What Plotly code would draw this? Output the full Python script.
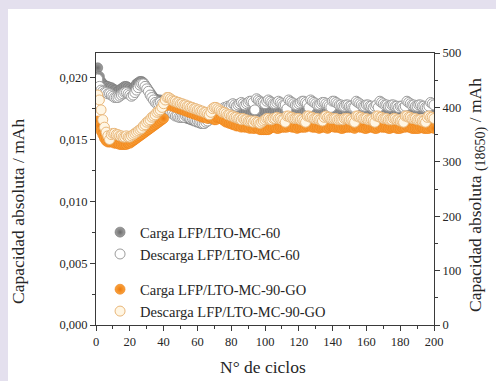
import plotly.graph_objects as go

# Cycle number (1..200)
ciclos = list(range(1, 201))

# Capacities in µAh (converted to mAh for plotting)
carga_mc60 = [
    20.8, 20.1, 19.7, 19.5, 19.4, 19.3, 19.3, 19.2, 19.2, 19.1,
    19.0, 19.0, 18.9, 19.0, 19.1, 19.2, 19.3, 19.3, 19.2, 19.1,
    19.0, 19.1, 19.3, 19.5, 19.6, 19.7, 19.7, 19.6, 19.4, 19.2,
    19.0, 18.8, 18.6, 18.4, 18.3, 18.2, 18.2, 18.2, 18.1, 17.9,
    17.7, 17.5, 17.4, 17.3, 17.2, 17.1, 17.0, 16.9, 16.9, 16.8,
    16.8, 16.8, 16.8, 16.7, 16.7, 16.6, 16.6, 16.5, 16.5, 16.4,
    16.4, 16.3, 16.3, 16.3, 16.4, 16.5, 16.6, 16.7, 16.8, 16.9,
    17.0, 17.1, 17.1, 17.2, 17.2, 17.3, 17.3, 17.3, 17.4, 17.4,
    17.4, 17.3, 17.3, 17.4, 17.4, 17.3, 17.3, 17.2, 17.3, 17.3,
    17.3, 17.2, 17.2, 17.3, 17.4, 17.3, 17.3, 17.2, 17.2, 17.3,
    17.3, 17.3, 17.2, 17.2, 17.2, 17.3, 17.3, 17.3, 17.2, 17.2,
    17.3, 17.4, 17.5, 17.4, 17.4, 17.3, 17.3, 17.3, 17.3, 17.4,
    17.4, 17.4, 17.3, 17.3, 17.4, 17.5, 17.5, 17.4, 17.4, 17.4,
    17.4, 17.4, 17.5, 17.5, 17.5, 17.4, 17.4, 17.5, 17.6, 17.6,
    17.5, 17.5, 17.5, 17.5, 17.5, 17.5, 17.5, 17.4, 17.5, 17.5,
    17.5, 17.5, 17.6, 17.6, 17.5, 17.5, 17.5, 17.5, 17.5, 17.5,
    17.5, 17.5, 17.5, 17.4, 17.5, 17.5, 17.6, 17.6, 17.6, 17.5,
    17.5, 17.5, 17.5, 17.5, 17.5, 17.5, 17.5, 17.4, 17.5, 17.5,
    17.5, 17.6, 17.6, 17.6, 17.5, 17.5, 17.5, 17.5, 17.5, 17.4,
    17.5, 17.5, 17.5, 17.5, 17.6, 17.6, 17.6, 17.5, 17.5, 17.5,
]

descarga_mc60 = [
    19.9, 19.3, 19.0, 18.9, 18.8, 18.8, 18.7, 18.7, 18.6, 18.5,
    18.4, 18.4, 18.4, 18.5, 18.6, 18.7, 18.8, 18.8, 18.7, 18.6,
    18.5, 18.6, 18.8, 19.0, 19.2, 19.4, 19.5, 19.5, 19.3, 19.1,
    18.9, 18.6, 18.4, 18.2, 18.0, 17.9, 17.9, 18.0, 17.9, 17.7,
    17.5, 17.4, 17.3, 17.2, 17.1, 17.0, 16.9, 16.9, 16.8, 16.8,
    16.8, 16.8, 16.9, 16.9, 16.8, 16.7, 16.7, 16.6, 16.5, 16.5,
    16.4, 16.4, 16.3, 16.3, 16.4, 16.5, 16.7, 16.8, 17.0, 17.1,
    17.2, 17.3, 17.4, 17.4, 17.5, 17.6, 17.6, 17.7, 17.7, 17.8,
    17.9, 17.8, 17.7, 17.8, 17.9, 18.0, 17.9, 17.8, 17.9, 18.0,
    18.1, 18.1, 18.0, 17.4, 18.3, 18.2, 18.1, 18.0, 18.0, 17.9,
    18.1, 18.2, 18.1, 18.0, 17.9, 17.9, 18.0, 18.1, 18.0, 17.9,
    17.8, 17.8, 17.5, 18.2, 18.1, 18.0, 17.9, 17.8, 17.8, 17.9,
    18.0, 18.1, 18.1, 18.0, 17.9, 17.6, 18.2, 18.1, 18.0, 17.9,
    17.8, 17.8, 17.9, 18.0, 18.0, 17.9, 17.8, 17.7, 17.6, 18.1,
    18.1, 18.0, 17.9, 17.8, 17.8, 17.7, 17.7, 17.8, 17.8, 17.7,
    17.7, 17.6, 17.6, 18.1, 18.0, 17.9, 17.8, 17.7, 17.7, 17.8,
    17.8, 17.7, 17.7, 17.6, 17.7, 17.8, 17.6, 18.1, 18.0, 17.9,
    17.8, 17.8, 17.7, 17.7, 17.8, 17.8, 17.7, 17.7, 17.6, 17.7,
    17.7, 17.6, 17.7, 18.1, 18.0, 17.9, 17.8, 17.8, 17.7, 17.7,
    17.8, 17.8, 17.7, 17.7, 17.6, 17.6, 17.7, 18.0, 17.9, 17.8,
]

carga_mc90go = [
    16.5, 16.1, 15.7, 15.4, 15.1, 14.9, 14.8, 14.8, 14.8, 14.8,
    14.7, 14.7, 14.7, 14.6, 14.6, 14.6, 14.6, 14.6, 14.7, 14.7,
    14.8, 14.9, 15.0, 15.1, 15.2, 15.3, 15.4, 15.5, 15.6, 15.7,
    15.8, 15.9, 16.0, 16.1, 16.2, 16.3, 16.4, 16.5, 16.6, 16.7,
    17.7, 17.9, 17.9, 17.8, 17.7, 17.7, 17.6, 17.6, 17.5, 17.5,
    17.4, 17.4, 17.3, 17.3, 17.2, 17.2, 17.1, 17.1, 17.0, 17.0,
    16.9, 16.9, 16.8, 16.8, 16.8, 16.7, 16.9, 16.8, 16.7, 16.6,
    16.6, 16.8, 16.8, 16.7, 16.6, 16.5, 16.4, 16.4, 16.3, 16.3,
    16.2, 16.2, 16.1, 16.1, 16.1, 16.0, 16.1, 16.0, 16.0, 16.0,
    15.9, 16.0, 15.9, 15.9, 16.0, 15.9, 15.8, 15.8, 15.8, 15.8,
    15.8, 15.8, 15.9, 16.0, 16.0, 16.0, 15.9, 15.9, 16.0, 16.0,
    16.0, 16.0, 16.0, 16.1, 16.1, 16.0, 16.0, 16.0, 15.9, 16.0,
    16.0, 16.0, 16.0, 16.0, 16.1, 16.1, 16.1, 16.0, 16.0, 16.0,
    16.0, 15.9, 16.0, 16.0, 16.0, 16.0, 15.9, 16.0, 16.1, 16.1,
    16.0, 16.0, 16.0, 16.0, 15.9, 15.9, 16.0, 16.0, 16.0, 16.0,
    16.0, 16.0, 15.9, 16.1, 16.1, 16.0, 16.0, 16.0, 15.9, 15.9,
    16.0, 16.0, 16.0, 16.0, 15.9, 15.9, 16.0, 16.1, 16.0, 16.0,
    16.0, 16.0, 15.9, 15.9, 16.0, 16.0, 16.0, 15.9, 15.9, 15.9,
    16.0, 16.0, 16.0, 16.1, 16.0, 16.0, 15.9, 15.9, 15.9, 15.9,
    15.9, 16.0, 16.0, 15.9, 15.9, 15.9, 15.9, 16.0, 16.0, 15.9,
]

descarga_mc90go = [
    18.6, 18.2, 17.4, 16.6, 16.0, 15.6, 15.3, 15.0, 15.4, 15.5,
    15.5, 15.4, 15.4, 15.3, 15.3, 15.2, 15.2, 15.3, 15.2, 15.2,
    15.3, 15.4, 15.5, 15.6, 15.7, 15.8, 15.9, 16.1, 16.2, 16.4,
    16.5, 16.6, 16.8, 16.9, 17.0, 17.2, 17.3, 17.4, 17.6, 17.9,
    18.2, 18.4, 18.4, 18.3, 18.2, 18.1, 18.1, 18.0, 18.0, 17.9,
    17.9, 17.8, 17.8, 17.7, 17.7, 17.6, 17.6, 17.5, 17.5, 17.4,
    17.4, 17.3, 17.3, 17.2, 17.2, 17.1, 17.0, 17.2, 17.5, 17.6,
    17.6, 17.5, 17.4, 17.3, 17.2, 17.2, 17.1, 17.0, 17.0, 16.9,
    16.9, 16.8, 16.8, 16.7, 16.7, 16.6, 16.7, 16.6, 16.6, 16.5,
    16.5, 16.5, 16.4, 16.5, 16.4, 16.4, 16.3, 16.4, 16.5, 16.6,
    16.7, 16.7, 16.6, 16.6, 16.7, 16.7, 16.8, 16.7, 16.7, 16.6,
    16.6, 16.4, 16.9, 16.9, 16.8, 16.8, 16.7, 16.7, 16.7, 16.7,
    16.6, 16.6, 16.5, 16.4, 16.9, 16.9, 16.8, 16.8, 16.7, 16.7,
    16.7, 16.6, 16.6, 16.5, 16.8, 16.9, 16.8, 16.8, 16.7, 16.7,
    16.7, 16.7, 16.6, 16.6, 16.6, 16.6, 16.7, 16.7, 16.7, 16.6,
    16.6, 16.5, 16.4, 16.9, 16.9, 16.8, 16.8, 16.7, 16.7, 16.7,
    16.6, 16.6, 16.6, 16.5, 16.4, 16.9, 16.9, 16.8, 16.8, 16.7,
    16.7, 16.7, 16.6, 16.6, 16.6, 16.7, 16.7, 16.6, 16.6, 16.5,
    16.5, 16.4, 16.9, 16.9, 16.8, 16.8, 16.7, 16.7, 16.7, 16.6,
    16.6, 16.6, 16.5, 16.5, 16.4, 16.8, 16.9, 16.8, 16.8, 16.7,
]

nombres = [
    "Carga LFP/LTO-MC-60",
    "Descarga LFP/LTO-MC-60",
    "Carga LFP/LTO-MC-90-GO",
    "Descarga LFP/LTO-MC-90-GO",
]

x_ticks = list(range(0, 201, 20))
y_ticks = [0.000, 0.005, 0.010, 0.015, 0.020]
y2_ticks = [0, 100, 200, 300, 400, 500]

FONT = "Liberation Serif"
TXT = "#262626"
AX = "#3a3a3a"


def to_mAh(vals):
    return [v / 1000.0 for v in vals]


fig = go.Figure()

fig.add_trace(go.Scatter(
    x=ciclos, y=to_mAh(carga_mc60), mode="markers", name=nombres[0],
    legend="legend",
    marker=dict(size=10, color="#a2a2a2", symbol="circle",
                gradient=dict(type="radial", color="#6a6a6a"),
                line=dict(color="#707070", width=0.6)),
))
fig.add_trace(go.Scatter(
    x=ciclos, y=to_mAh(descarga_mc60), mode="markers", name=nombres[1],
    legend="legend",
    marker=dict(size=10, color="#ffffff", symbol="circle",
                line=dict(color="#9c9c9c", width=1)),
))
fig.add_trace(go.Scatter(
    x=ciclos, y=to_mAh(carga_mc90go), mode="markers", name=nombres[2],
    legend="legend2",
    marker=dict(size=10, color="#f9a440", symbol="circle",
                gradient=dict(type="radial", color="#ee7a0c"),
                line=dict(color="#ef7e10", width=0.6)),
))
fig.add_trace(go.Scatter(
    x=ciclos, y=to_mAh(descarga_mc90go), mode="markers", name=nombres[3],
    legend="legend2",
    marker=dict(size=10, color="#fff6e4", symbol="circle",
                line=dict(color="#e9b77a", width=1)),
))
# right-hand axis holder (18650 equivalent scale)
fig.add_trace(go.Scatter(x=[None], y=[None], yaxis="y2", showlegend=False,
                         hoverinfo="skip"))

axis_common = dict(
    showgrid=False, zeroline=False, showline=True, linecolor=AX, linewidth=1,
    ticks="outside", ticklen=5, tickwidth=1, tickcolor=AX,
    tickfont=dict(family=FONT, size=12.5, color=TXT),
)

fig.update_layout(
    width=496, height=381,
    margin=dict(l=96, r=62, t=53, b=56),
    paper_bgcolor="#ffffff", plot_bgcolor="#ffffff",
    separators=",.",
    font=dict(family=FONT, color=TXT),
    xaxis=dict(range=[0, 200], tickvals=x_ticks, mirror=True,
               minor=dict(ticks="outside", ticklen=3, dtick=10, tickcolor=AX),
               **axis_common),
    yaxis=dict(range=[0, 0.022], tickvals=y_ticks, tickformat=".3f",
               minor=dict(ticks="outside", ticklen=3, dtick=0.0025, tick0=0,
                          tickcolor=AX),
               **axis_common),
    yaxis2=dict(range=[0, 500], tickvals=y2_ticks, overlaying="y", side="right",
                minor=dict(ticks="outside", ticklen=3, dtick=50, tick0=0,
                           tickcolor=AX),
                **axis_common),
    legend=dict(x=0.012, y=0.40, xanchor="left", yanchor="top",
                bgcolor="rgba(0,0,0,0)", font=dict(family=FONT, size=14.5, color=TXT),
                itemsizing="trace", tracegroupgap=0),
    legend2=dict(x=0.012, y=0.19, xanchor="left", yanchor="top",
                 bgcolor="rgba(0,0,0,0)", font=dict(family=FONT, size=14.5, color=TXT),
                 itemsizing="trace", tracegroupgap=0),
    showlegend=True,
)

# lavender frame strips on the left and top edges of the page
L0 = -96.0 / 338.0
fig.add_shape(type="rect", xref="paper", yref="paper", layer="above",
              x0=L0 - 0.01, x1=(8 - 96.0) / 338.0, y0=-0.3, y1=1.3,
              line=dict(width=0), fillcolor="#e4e0ee")
fig.add_shape(type="rect", xref="paper", yref="paper", layer="above",
              x0=L0 - 0.01, x1=1.3, y0=(325 - 9) / 272.0, y1=1.3,
              line=dict(width=0), fillcolor="#e4e0ee")

fig.add_annotation(text="Capacidad absoluta / mAh", xref="paper", yref="paper",
                   x=(18 - 96.0) / 338.0, y=(325 - 212) / 272.0, textangle=-90,
                   showarrow=False, xanchor="center", yanchor="middle",
                   font=dict(family=FONT, size=17.5, color=TXT))
fig.add_annotation(
    text=("<span style='font-size:17.5px'>Capacidad absoluta </span>"
          "<sub>(18650)</sub>"
          "<span style='font-size:17.5px'> / mAh</span>"),
    xref="paper", yref="paper",
    x=(477 - 96.0) / 338.0, y=(325 - 195) / 272.0, textangle=-90,
    showarrow=False, xanchor="center", yanchor="middle",
    font=dict(family=FONT, size=20, color=TXT))
fig.add_annotation(text="N° de ciclos", xref="paper", yref="paper",
                   x=(263 - 96.0) / 338.0, y=(325 - 367) / 272.0,
                   showarrow=False, xanchor="center", yanchor="middle",
                   font=dict(family=FONT, size=17.5, color=TXT))

fig.write_html("out.html")
